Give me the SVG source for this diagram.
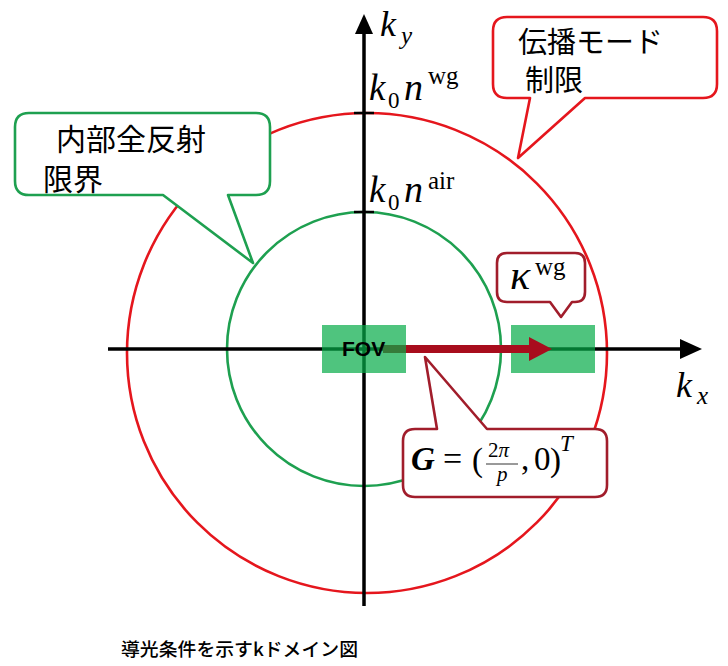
<svg xmlns="http://www.w3.org/2000/svg" width="728" height="666" viewBox="0 0 728 666">
<style>
.bg{fill:#ffffff}
.axis{stroke:#000;stroke-width:3.5;fill:none}
.tick{stroke:#000;stroke-width:2.5}
.red{stroke:#e5161d;stroke-width:2.6;fill:none}
.grn{stroke:#1ea050;stroke-width:2.6;fill:none}
.fov{fill:#04ab47;fill-opacity:0.7}
.cr{fill:#fff;stroke:#e5161d;stroke-width:2.6;stroke-linejoin:round}
.cg{fill:#fff;stroke:#1ea050;stroke-width:2.6;stroke-linejoin:round}
.cd{fill:#fff;stroke:#a11d2b;stroke-width:2.6;stroke-linejoin:round}
.jp{font-family:"Noto Sans CJK JP","Noto Sans",sans-serif;fill:#000}
.m{font-family:"Liberation Serif","DejaVu Serif",serif;fill:#000}
.mi{font-family:"Liberation Serif","DejaVu Serif",serif;font-style:italic;fill:#000}
</style>
<rect class="bg" x="0" y="0" width="728" height="666"/>

<g id="circles">
  <circle id="propagation-limit" class="red" cx="367" cy="353" r="240"/>
  <circle id="tir-limit" class="grn" cx="364" cy="349" r="137"/>
</g>

<g id="axes">
  <line class="axis" x1="364" y1="30" x2="364" y2="606"/>
  <polygon points="355,34 364,14 373,34" fill="#000"/>
  <line class="axis" x1="108" y1="349" x2="684" y2="349"/>
  <polygon points="680,339 702,349 680,359" fill="#000"/>
  <line class="tick" x1="354" y1="113" x2="374" y2="113"/>
  <line class="tick" x1="354" y1="212" x2="374" y2="212"/>
  <text class="mi" x="380" y="36" font-size="36">k</text>
  <text class="mi" x="401" y="44" font-size="25">y</text>
  <text class="mi" x="676" y="397" font-size="36">k</text>
  <text class="mi" x="697" y="404" font-size="25">x</text>
</g>

<g id="tick-labels">
  <text class="mi" x="369" y="100" font-size="37">k</text>
  <text class="m" x="388" y="108" font-size="23">0</text>
  <text class="mi" x="404" y="100" font-size="38">n</text>
  <text class="m" x="428" y="84" font-size="25">wg</text>
  <text class="mi" x="369" y="202" font-size="37">k</text>
  <text class="m" x="388" y="210" font-size="23">0</text>
  <text class="mi" x="404" y="202" font-size="38">n</text>
  <text class="m" x="428" y="189" font-size="25">air</text>
</g>

<g id="kappa-box">
  <rect class="fov" x="511" y="325" width="84" height="48"/>
</g>

<g id="connectors">
  <line x1="383" y1="349" x2="531" y2="349" stroke="#a80d1d" stroke-width="8"/>
  <polygon points="529,337 552,349 529,361" fill="#a80d1d"/>
</g>

<g id="fov">
  <rect class="fov" x="322" y="325" width="84" height="48"/>
  <text x="342" y="356" font-family="Liberation Sans, Arial, sans-serif" font-weight="bold" font-size="21" fill="#000">FOV</text>
</g>

<g id="callout-propagation">
  <path class="cr" d="M507,17 H703 Q717,17 717,31 V84 Q717,98 703,98 H585 L518,158 L530,98 H507 Q493,98 493,84 V31 Q493,17 507,17 Z"/>
  <text class="jp" x="518" y="53" font-size="29">伝播モード</text>
  <text class="jp" x="525" y="91" font-size="29">制限</text>
</g>

<g id="callout-tir">
  <path class="cg" d="M29,113 H256 Q270,113 270,127 V181 Q270,195 256,195 H228 L253,263 L163,195 H29 Q15,195 15,181 V127 Q15,113 29,113 Z"/>
  <text class="jp" x="56" y="150" font-size="30">内部全反射</text>
  <text class="jp" x="43" y="190" font-size="30">限界</text>
</g>

<g id="callout-kappa">
  <path class="cd" d="M507,253 H575 Q585,253 585,263 V292 Q585,302 575,302 H572 L561,317 L550,302 H507 Q497,302 497,292 V263 Q497,253 507,253 Z"/>
  <text class="mi" x="510" y="289" font-size="42">κ</text>
  <text class="m" x="535" y="275" font-size="25">wg</text>
</g>

<g id="callout-G">
  <path class="cd" d="M415,429 H437 L425,357 L487,429 H595 Q607,429 607,441 V485 Q607,497 595,497 H415 Q403,497 403,485 V441 Q403,429 415,429 Z"/>
  <text class="mi" x="411" y="470" font-size="33" font-weight="bold">G</text>
  <text class="m" x="443" y="470" font-size="34">=</text>
  <text class="m" x="472" y="471" font-size="33">(</text>
  <text class="m" x="488" y="457" font-size="21">2<tspan font-style="italic">π</tspan></text>
  <line x1="486" y1="464" x2="518" y2="464" stroke="#000" stroke-width="0.8"/>
  <text class="mi" x="497" y="481" font-size="21">p</text>
  <text class="m" x="521" y="470" font-size="33">,</text>
  <text class="m" x="534" y="470" font-size="33">0</text>
  <text class="m" x="550" y="471" font-size="33">)</text>
  <text class="mi" x="560" y="451" font-size="23">T</text>
</g>

<text id="caption" class="jp" x="121" y="656" font-size="18.5" font-weight="500" textLength="237" lengthAdjust="spacingAndGlyphs">導光条件を示すkドメイン図</text>
</svg>
